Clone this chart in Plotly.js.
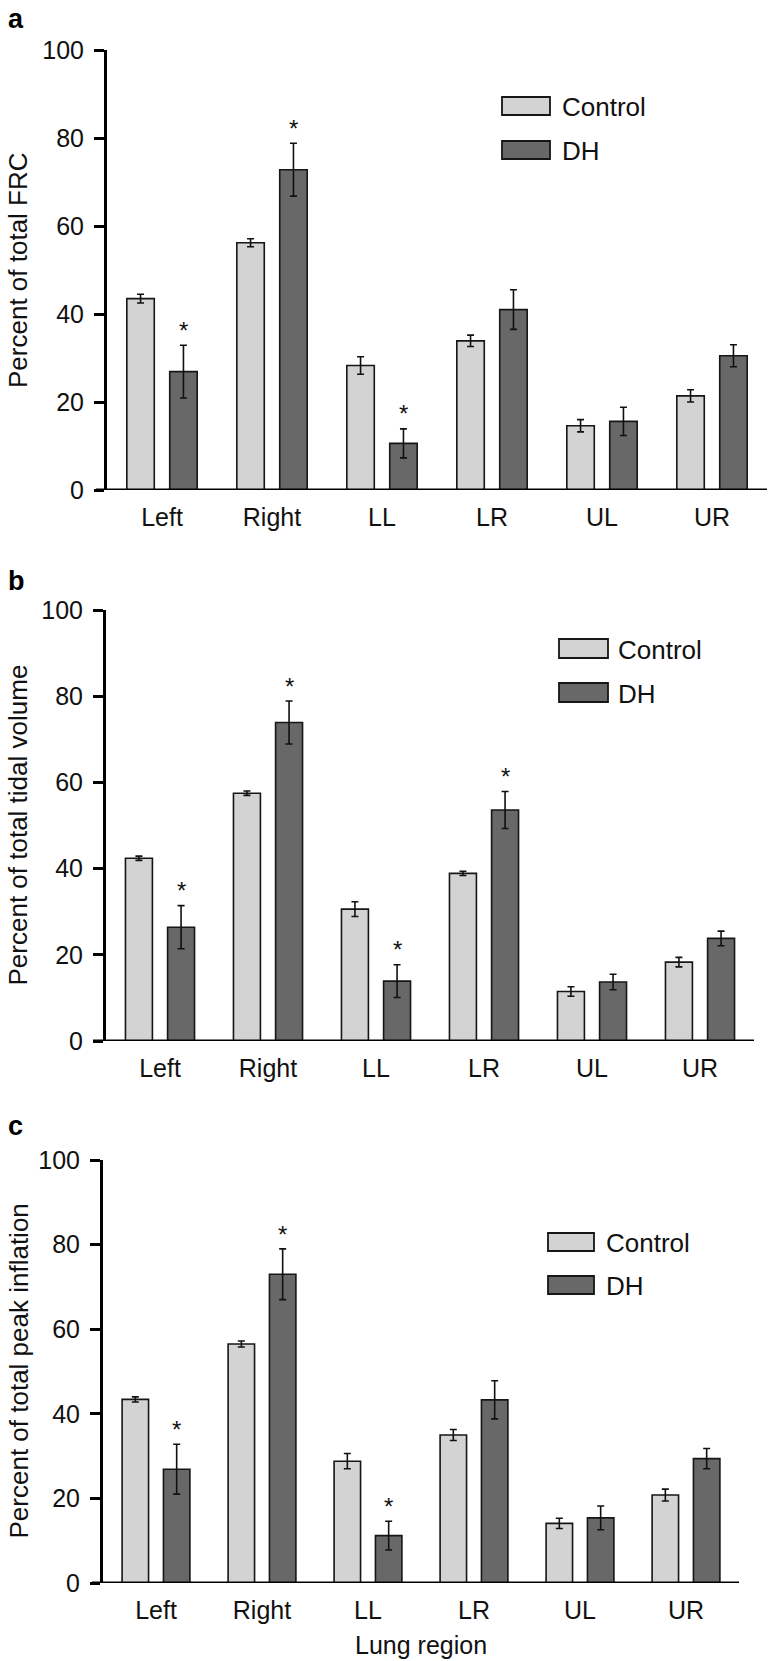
<!DOCTYPE html>
<html>
<head>
<meta charset="utf-8">
<script src="https://cdn.plot.ly/plotly-3.0.1.min.js"></script>
<style>
  html, body { margin: 0; padding: 0; background: #ffffff; }
  #chart { width: 772px; height: 1661px; }
</style>
</head>
<body>
<div id="chart"></div>
<script>
// ---------------- data ----------------
const categories = ['Left', 'Right', 'LL', 'LR', 'UL', 'UR'];
const seriesNames = ['Control', 'DH'];

// a: Percent of total FRC
const frcControl    = [43.5, 56.2, 28.3, 33.9, 14.6, 21.4];
const frcControlErr = [1.0, 0.9, 2.0, 1.3, 1.4, 1.4];
const frcDH         = [26.9, 72.8, 10.6, 41.0, 15.6, 30.5];
const frcDHErr      = [6.0, 6.0, 3.3, 4.5, 3.2, 2.5];
const frcSig        = [true, true, true, false, false, false];

// b: Percent of total tidal volume
const tidalControl    = [42.4, 57.5, 30.6, 38.9, 11.5, 18.3];
const tidalControlErr = [0.5, 0.5, 1.7, 0.5, 1.1, 1.1];
const tidalDH         = [26.4, 73.9, 13.9, 53.6, 13.7, 23.8];
const tidalDHErr      = [5.0, 5.0, 3.8, 4.3, 1.8, 1.7];
const tidalSig        = [true, true, true, true, false, false];

// c: Percent of total peak inflation
const peakControl    = [43.4, 56.5, 28.8, 35.0, 14.1, 20.8];
const peakControlErr = [0.6, 0.7, 1.8, 1.3, 1.2, 1.4];
const peakDH         = [26.9, 73.0, 11.2, 43.3, 15.4, 29.4];
const peakDHErr      = [5.9, 6.0, 3.4, 4.5, 2.8, 2.4];
const peakSig        = [true, true, true, false, false, false];

const panelLetters = ['a', 'b', 'c'];
const yTitles = ['Percent of total FRC', 'Percent of total tidal volume', 'Percent of total peak inflation'];
const yTickVals = [0, 20, 40, 60, 80, 100];
const xTitle = 'Lung region';

// ---------------- styling / layout ----------------
const W = 772, H = 1661;
const FONT = 'Liberation Sans, Arial, Helvetica, sans-serif';
const controlColor = '#d3d3d3';
const dhColor = '#686868';
const edgeColor = '#161616';
const BARGAP = 0.22, BARGROUPGAP = 0.36;
const dhOffset = (1 - BARGAP) / 4;   // centre of 2nd bar in a group

const px = v => v / W;
const py = v => 1 - v / H;

// plot areas in pixels: [left, right, top(100), bottom(0)]
const boxes = [
  { l: 107, r: 767, t: 50,  b: 490,  axL: 96, leg: { x: 502, w: 48, y1: 97,  y2: 141, h: 18, tx: 560 } },
  { l: 106, r: 754, t: 610, b: 1041, axL: 93, leg: { x: 559, w: 49, y1: 639, y2: 683, h: 19, tx: 616 } },
  { l: 103, r: 739, t: 1160, b: 1583, axL: 92, leg: { x: 548, w: 46, y1: 1233, y2: 1276, h: 18, tx: 604 } }
];
const letterBaselines = [28, 590, 1135];

const panels = [
  { c: frcControl, ce: frcControlErr, d: frcDH, de: frcDHErr, sig: frcSig },
  { c: tidalControl, ce: tidalControlErr, d: tidalDH, de: tidalDHErr, sig: tidalSig },
  { c: peakControl, ce: peakControlErr, d: peakDH, de: peakDHErr, sig: peakSig }
];

const traces = [];
const annotations = [];
const shapes = [];
const layout = {
  width: W, height: H,
  margin: { l: 0, r: 0, t: 0, b: 0 },
  paper_bgcolor: '#ffffff',
  plot_bgcolor: '#ffffff',
  barmode: 'group',
  bargap: BARGAP,
  bargroupgap: BARGROUPGAP,
  showlegend: false,
  font: { family: FONT, color: '#111111' }
};

panels.forEach((p, i) => {
  const n = i === 0 ? '' : String(i + 1);
  const xa = 'x' + n, ya = 'y' + n;
  const bx = boxes[i];

  traces.push({
    type: 'bar', name: seriesNames[0], x: categories, y: p.c,
    xaxis: xa, yaxis: ya,
    marker: { color: controlColor, line: { color: edgeColor, width: 1.6 } },
    error_y: { type: 'data', array: p.ce, visible: true, color: '#111111', thickness: 1.6, width: 3.5 }
  });
  traces.push({
    type: 'bar', name: seriesNames[1], x: categories, y: p.d,
    xaxis: xa, yaxis: ya,
    marker: { color: dhColor, line: { color: edgeColor, width: 1.6 } },
    error_y: { type: 'data', array: p.de, visible: true, color: '#111111', thickness: 1.6, width: 3.5 }
  });

  layout['xaxis' + n] = {
    domain: [px(bx.l), px(bx.r)],
    anchor: ya,
    type: 'category',
    range: [-0.5, 5.5],
    showline: false, showgrid: false, zeroline: false,
    ticks: '',
    tickfont: { size: 25, family: FONT, color: '#111111' },
    ticklabelstandoff: 10,
    fixedrange: true
  };
  layout['yaxis' + n] = {
    domain: [py(bx.b), py(bx.t)],
    anchor: xa,
    range: [0, 100],
    tickvals: yTickVals,
    showline: true, linecolor: '#000000', linewidth: 3,
    ticks: 'outside', ticklen: 10, tickwidth: 3, tickcolor: '#000000',
    showgrid: false, zeroline: false,
    tickfont: { size: 25, family: FONT, color: '#111111' },
    ticklabelstandoff: 5,
    fixedrange: true
  };

  // x axis baseline (extends a bit left of the y axis, as in the figure)
  shapes.push({
    type: 'line', xref: 'paper', yref: ya,
    x0: px(bx.axL), x1: px(bx.r), y0: 0, y1: 0,
    line: { color: '#000000', width: 3 }
  });

  // y axis title
  annotations.push({
    xref: 'paper', yref: 'paper',
    x: px(18), y: py((bx.t + bx.b) / 2),
    xanchor: 'center', yanchor: 'middle',
    text: yTitles[i], textangle: -90, showarrow: false,
    font: { size: 26, family: FONT, color: '#111111' }
  });

  // panel letter
  annotations.push({
    xref: 'paper', yref: 'paper',
    x: px(6), y: py(letterBaselines[i] - 9),
    xanchor: 'left', yanchor: 'middle',
    text: '<b>' + panelLetters[i] + '</b>', showarrow: false,
    font: { size: 27, family: FONT, color: '#000000' }
  });

  // significance stars above DH bars
  p.sig.forEach((s, k) => {
    if (!s) return;
    annotations.push({
      xref: xa, yref: ya,
      x: k + dhOffset, y: p.d[k] + p.de[k] + 4.6,
      xanchor: 'center', yanchor: 'middle', yshift: -5,
      text: '*', showarrow: false,
      font: { size: 24, family: FONT, color: '#111111' }
    });
  });

  // legend (manual, to reproduce the wide swatches)
  const L = bx.leg;
  [[L.y1, controlColor, seriesNames[0]], [L.y2, dhColor, seriesNames[1]]].forEach(([yy, col, name]) => {
    shapes.push({
      type: 'rect', xref: 'paper', yref: 'paper',
      x0: px(L.x), x1: px(L.x + L.w), y0: py(yy + L.h), y1: py(yy),
      fillcolor: col, line: { color: edgeColor, width: 1.8 }
    });
    annotations.push({
      xref: 'paper', yref: 'paper',
      x: px(L.tx), y: py(yy + L.h / 2 + 1),
      xanchor: 'left', yanchor: 'middle',
      text: name, showarrow: false,
      font: { size: 26, family: FONT, color: '#111111' }
    });
  });
});

// x axis title (bottom panel)
annotations.push({
  xref: 'paper', yref: 'paper',
  x: px((boxes[2].l + boxes[2].r) / 2), y: py(1645),
  xanchor: 'center', yanchor: 'middle',
  text: xTitle, showarrow: false,
  font: { size: 25, family: FONT, color: '#111111' }
});

layout.annotations = annotations;
layout.shapes = shapes;

Plotly.newPlot('chart', traces, layout, { displayModeBar: false, staticPlot: true });
</script>
</body>
</html>
